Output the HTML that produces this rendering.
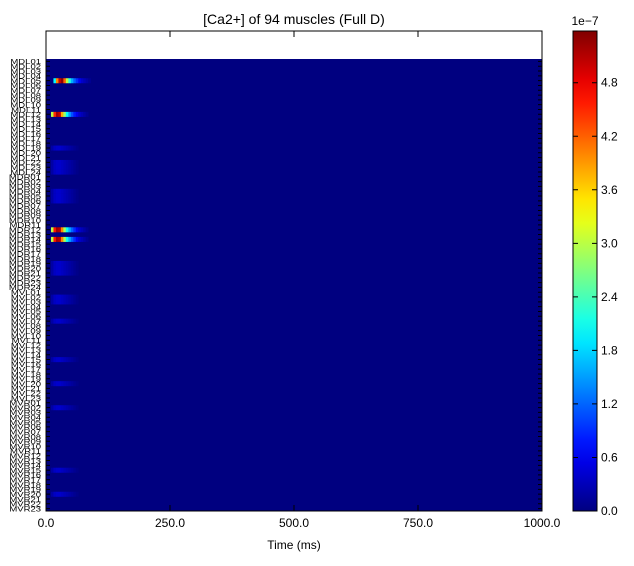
<!DOCTYPE html>
<html><head><meta charset="utf-8"><style>
body{margin:0;background:#fff;width:634px;height:561px;overflow:hidden;font-family:"Liberation Sans",sans-serif}
svg text{font-family:"Liberation Sans",sans-serif}
</style></head><body>
<svg id="chart" width="634" height="561" xmlns="http://www.w3.org/2000/svg">
<defs><linearGradient id="cbg" x1="0" y1="1" x2="0" y2="0"></linearGradient></defs>
<text x="294" y="24" font-size="14" text-anchor="middle">[Ca2+] of 94 muscles (Full D)</text>
<g id="cells"></g>
<g id="axes"></g>
<text x="294" y="549" font-size="12" text-anchor="middle">Time (ms)</text>
<rect x="573" y="31" width="24" height="480" fill="url(#cbg)" stroke="#000"/>
<g id="cbaxis"></g>
<text x="585" y="25" font-size="12" text-anchor="middle">1e−7</text>
</svg>
<script>
// ---- data ----
const prefixes = ['MDL','MDR','MVL','MVR'];
const counts = [24,24,23,23];
const binMs = 5;
const hotRows = ['MDL05','MDL12','MDR12','MDR14'];
const hotSeries = [
 [0,0,0,2.0,4.0,5.0,5.3,4.2,3.0,2.2,1.6,1.2,0.9,0.6,0.4,0.3,0.2,0.1],
 [0,0,3.0,4.5,5.2,5.0,3.8,2.8,2.0,1.5,1.1,0.8,0.6,0.4,0.3,0.2,0.1,0],
 [0,0,3.0,4.6,5.2,5.1,4.0,2.9,2.1,1.6,1.2,0.9,0.6,0.4,0.3,0.2,0.1,0],
 [0,0,3.0,4.6,5.2,5.1,4.0,2.9,2.1,1.6,1.2,0.9,0.6,0.4,0.3,0.2,0.1,0]
];
const faintRows = ['MDL19','MDL22','MDL23','MDL24','MDR04','MDR05','MDR06','MDR19','MDR20','MDR21','MVL02','MVL03','MVL07','MVL15','MVL20','MVR02','MVR15','MVR20'];
const faintSeries = [0,0,0.2,0.35,0.4,0.4,0.35,0.3,0.25,0.2,0.15,0.1,0.05,0];
const xTicks = [0,250,500,750,1000];
const xTickLabels = ['0.0','250.0','500.0','750.0','1000.0'];
const cbTicks = [0,0.6,1.2,1.8,2.4,3.0,3.6,4.2,4.8];
const cbTickLabels = ['0.0','0.6','1.2','1.8','2.4','3.0','3.6','4.2','4.8'];
const vmax = 5.38;

// ---- layout ----
const X0=46,X1=542,Y0=31,HY0=59,Y1=511;
const xs = t => X0 + t/1000*(X1-X0);
const names=[];prefixes.forEach((p,i)=>{for(let k=1;k<=counts[i];k++)names.push(p+String(k).padStart(2,'0'));});
const rh=(Y1-HY0)/names.length;
const ys = i => HY0 + i*rh;
function jet(v){let x=Math.max(0,Math.min(1,v/vmax));
 const c=t=>Math.round(255*Math.max(0,Math.min(1,t)));
 return `rgb(${c(1.5-Math.abs(4*x-3))},${c(1.5-Math.abs(4*x-2))},${c(1.5-Math.abs(4*x-1))})`;}
const NS='http://www.w3.org/2000/svg';
function mk(tag,attrs,parent){const e=document.createElementNS(NS,tag);for(const k in attrs)e.setAttribute(k,attrs[k]);parent.appendChild(e);return e;}
const cells=document.getElementById('cells');
const axes=document.getElementById('axes');
const bg=mk('rect',{x:X0,y:HY0,width:X1-X0,height:Y1-HY0,fill:jet(0)},cells);


function drawRow(name,series){const i=names.indexOf(name);if(i<0)return;
 series.forEach((v,b)=>{if(v<=0)return;
  const r=mk('rect',{x:xs(b*binMs),y:ys(i),width:xs((b+1)*binMs)-xs(b*binMs)+0.3,height:rh+0.2,fill:jet(v)},cells);
  
  });}
faintRows.forEach(n=>drawRow(n,faintSeries));
hotRows.forEach((n,j)=>drawRow(n,hotSeries[j]));
const frame=mk('rect',{x:X0,y:Y0,width:X1-X0,height:Y1-Y0,fill:'none',stroke:'#000'},axes);


names.forEach((n,i)=>{const y=ys(i)+rh/2;
 const t=mk('text',{x:41,y:y+3.5,'font-size':'9.5','text-anchor':'end',transform:`translate(0,${y}) scale(1,0.8) translate(0,${-y})`},axes);t.textContent=n;
 
 
 const l=mk('path',{d:`M${X0},${y}h4M${X1},${y}h-4`,stroke:'#000','stroke-width':'1'},axes);
 
 });
xTicks.forEach((v,i)=>{const x=xs(v);
 const l=mk('path',{d:`M${x},${Y1}v-6M${x},${Y0}v6`,stroke:'#000'},axes);
 
 
 const t=mk('text',{x:x,y:527,'font-size':'12','text-anchor':'middle'},axes);t.textContent=xTickLabels[i];
 
 });
const g=document.getElementById('cbg');
for(let k=0;k<=20;k++){mk('stop',{offset:k/20,'stop-color':jet(k/20*vmax)},g);}
const cb=document.getElementById('cbaxis');
cbTicks.forEach((v,i)=>{const y=Y1-v/vmax*(Y1-Y0);
 const l=mk('path',{d:`M597,${y}h-5M573,${y}h5`,stroke:'#000'},cb);
 
 
 const t=mk('text',{x:601,y:y+4,'font-size':'12'},cb);t.textContent=cbTickLabels[i];
 
 });
</script>
</body></html>
